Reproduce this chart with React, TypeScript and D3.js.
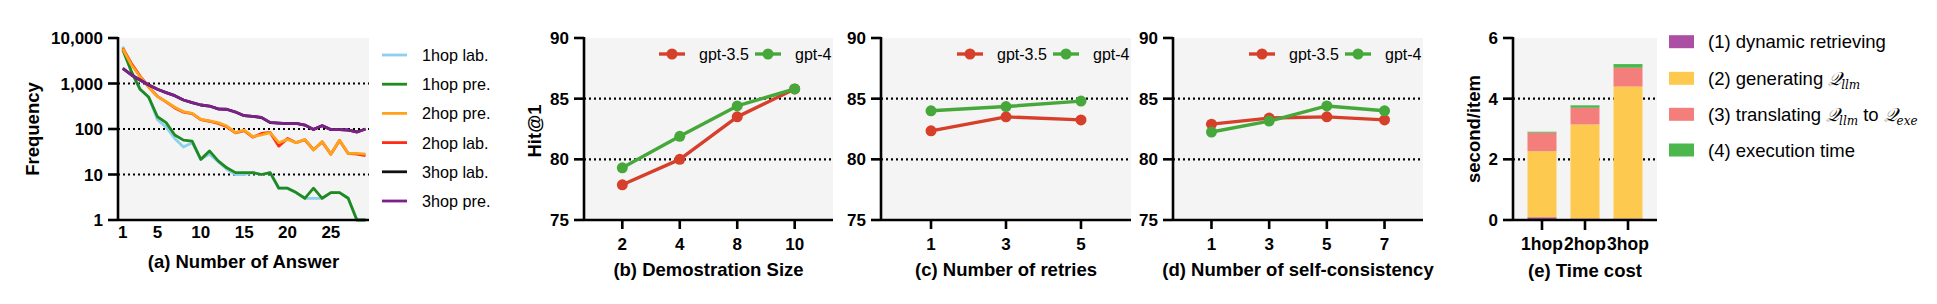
import React from "react";
import * as d3 from "d3";

// ---------- Data ----------
const answerCounts = d3.range(1, 30);
const hop1Lab = [6500, 1820, 745, 497, 160, 110, 62, 40, 50, 21.5, 28, 19, 13, 10, 10, 11, 10, 11, 5, 5, 4, 3, 3, 3, 4, 4, 3, 1, 1];
const hop1Pre = [5500, 1820, 745, 497, 186, 138, 74, 57, 54, 21.5, 33, 20, 14, 11, 11, 11, 10, 11, 5, 5, 4, 3, 5, 3, 4, 4, 3, 1, 1];
const hop2Pre = [5800, 2550, 1410, 825, 514, 400, 300, 240, 221, 163, 150, 138, 116, 83, 95, 68, 74, 83, 50, 59, 50, 59, 34.5, 53, 28, 57, 29, 29, 28];
const hop2Lab = [6000, 2750, 1450, 840, 520, 395, 290, 235, 218, 160, 148, 132, 112, 82, 92, 66, 80, 84, 42, 62, 50, 58, 35, 52, 28, 56, 29, 28, 26];
const hop3Lab = [2150, 1540, 1190, 927, 745, 630, 541, 434, 379, 337, 320, 278, 272, 236, 196, 190, 178, 138, 135, 131, 133, 122, 98, 118, 97, 97, 95, 86, 100];
const hop3Pre = [2150, 1540, 1190, 927, 745, 630, 541, 434, 379, 337, 320, 275, 268, 236, 196, 190, 180, 140, 135, 131, 133, 122, 98, 120, 97, 97, 95, 85, 100];

const demoSizes = ["2", "4", "8", "10"];
const demoGpt35 = [77.9, 80.0, 83.5, 85.8];
const demoGpt4 = [79.3, 81.9, 84.4, 85.8];

const retries = ["1", "3", "5"];
const retryGpt35 = [82.35, 83.5, 83.25];
const retryGpt4 = [84.0, 84.35, 84.8];

const consistency = ["1", "3", "5", "7"];
const consGpt35 = [82.9, 83.4, 83.5, 83.25];
const consGpt4 = [82.25, 83.15, 84.4, 84.0];

const hops = ["1hop", "2hop", "3hop"];
const tRetrieve = [0.09, 0.05, 0.05];
const tGenerate = [2.18, 3.1, 4.35];
const tTranslate = [0.61, 0.55, 0.62];
const tExecute = [0.03, 0.08, 0.12];

const freqTicks = [1, 10, 100, 1000, 10000];
const freqXTicks = [1, 5, 10, 15, 20, 25];
const hitTicks = [75, 80, 85, 90];
const timeTicks = [0, 2, 4, 6];

// ---------- Styling ----------
const FONT = "'Liberation Sans', Arial, Helvetica, sans-serif";
const TOP = 38;
const BOTTOM = 220;
const BG = "#f4f4f4";
const AXW = 2.6;
const RED = "#d6402b";
const GREEN = "#46a83a";

const aSeries = [
  { name: "1hop lab.", values: hop1Lab, color: "#8dd0ec" },
  { name: "1hop pre.", values: hop1Pre, color: "#1f8a1f" },
  { name: "2hop pre.", values: hop2Pre, color: "#ffa31a" },
  { name: "2hop lab.", values: hop2Lab, color: "#ff2d17" },
  { name: "3hop lab.", values: hop3Lab, color: "#111111" },
  { name: "3hop pre.", values: hop3Pre, color: "#7d2089" },
];
const aDrawOrder = [0, 1, 3, 2, 4, 5];

const stackKeys = [
  { label: "(1) dynamic retrieving", values: tRetrieve, color: "#ab4ea4" },
  { label: "(2) generating", values: tGenerate, color: "#fdc94f" },
  { label: "(3) translating", values: tTranslate, color: "#f47e7c" },
  { label: "(4) execution time", values: tExecute, color: "#4cb74c" },
];

function Grid({ x1, x2, ys }: { x1: number; x2: number; ys: number[] }) {
  return (
    <g>
      {ys.map((y, i) => (
        <line key={i} x1={x1} x2={x2} y1={y} y2={y} stroke="#000" strokeWidth={2.2} strokeDasharray="2,3" />
      ))}
    </g>
  );
}

function YAxis({ x, ticks, labels, scale }: { x: number; ticks: number[]; labels: string[]; scale: (v: number) => number }) {
  return (
    <g>
      <line x1={x} x2={x} y1={TOP - 1} y2={BOTTOM + 1} stroke="#000" strokeWidth={AXW} />
      {ticks.map((t, i) => (
        <g key={i}>
          <line x1={x - 10} x2={x} y1={scale(t)} y2={scale(t)} stroke="#000" strokeWidth={AXW} />
          <text x={x - 15} y={scale(t) + 6} textAnchor="end" fontSize={17} fontWeight="bold" fontFamily={FONT}>
            {labels[i]}
          </text>
        </g>
      ))}
    </g>
  );
}

function YTitle({ x, y, text }: { x: number; y: number; text: string }) {
  return (
    <text transform={`translate(${x},${y}) rotate(-90)`} textAnchor="middle" fontSize={18.5} fontWeight="bold" fontFamily={FONT}>
      {text}
    </text>
  );
}

function LinePanel({
  left,
  right,
  cats,
  s35,
  s4,
  title,
  ytitle,
}: {
  left: number;
  right: number;
  cats: string[];
  s35: number[];
  s4: number[];
  title: string;
  ytitle?: string;
}) {
  const x = d3.scalePoint<string>().domain(cats).range([left, right]).padding(0.667);
  const y = d3.scaleLinear().domain([75, 90]).range([BOTTOM, TOP]);
  const line = d3
    .line<number>()
    .x((_, i) => x(cats[i]) as number)
    .y((d) => y(d));
  const series = [
    { name: "gpt-3.5", vals: s35, color: RED, off: -174 },
    { name: "gpt-4", vals: s4, color: GREEN, off: -78 },
  ];
  return (
    <g>
      <rect x={left} y={TOP} width={right - left} height={BOTTOM - TOP} fill={BG} />
      <Grid x1={left} x2={right} ys={[y(80), y(85)]} />
      {series.map((s) => (
        <g key={s.name}>
          <path d={line(s.vals) || ""} fill="none" stroke={s.color} strokeWidth={3.4} strokeLinejoin="round" />
          {s.vals.map((v, i) => (
            <circle key={i} cx={x(cats[i])} cy={y(v)} r={5.5} fill={s.color} />
          ))}
        </g>
      ))}
      {series.map((s) => (
        <g key={"lg" + s.name}>
          <line x1={right + s.off} x2={right + s.off + 26} y1={54} y2={54} stroke={s.color} strokeWidth={3.4} />
          <circle cx={right + s.off + 13} cy={54} r={5.5} fill={s.color} />
          <text x={right + s.off + 40} y={60} fontSize={16} fontFamily={FONT}>
            {s.name}
          </text>
        </g>
      ))}
      <YAxis x={left} ticks={hitTicks} labels={hitTicks.map(String)} scale={y} />
      <line x1={left} x2={right} y1={BOTTOM} y2={BOTTOM} stroke="#000" strokeWidth={AXW} />
      {cats.map((c) => (
        <g key={c}>
          <line x1={x(c)} x2={x(c)} y1={BOTTOM} y2={BOTTOM + 9} stroke="#000" strokeWidth={AXW} />
          <text x={x(c)} y={250} textAnchor="middle" fontSize={17} fontWeight="bold" fontFamily={FONT}>
            {c}
          </text>
        </g>
      ))}
      <text x={(left + right) / 2} y={276} textAnchor="middle" fontSize={18.5} fontWeight="bold" fontFamily={FONT}>
        {title}
      </text>
      {ytitle ? <YTitle x={541} y={131} text={ytitle} /> : null}
    </g>
  );
}

function PanelA() {
  const left = 118;
  const right = 369;
  const x = d3.scaleLinear().domain([0.45, 29.4]).range([left, right]);
  const y = d3.scaleLog().domain([1, 10000]).range([BOTTOM, TOP]);
  const line = d3
    .line<number>()
    .x((_, i) => x(answerCounts[i]))
    .y((d) => y(d));
  const fmt = d3.format(",");
  return (
    <g>
      <rect x={left} y={TOP} width={right - left} height={BOTTOM - TOP} fill={BG} />
      <Grid x1={left} x2={right} ys={[y(10), y(100), y(1000)]} />
      {aDrawOrder.map((k) => {
        const s = aSeries[k];
        return <path key={s.name} d={line(s.values) || ""} fill="none" stroke={s.color} strokeWidth={2.8} strokeLinejoin="round" />;
      })}
      <YAxis x={left} ticks={freqTicks} labels={freqTicks.map((t) => fmt(t))} scale={y} />
      <line x1={left} x2={right} y1={BOTTOM} y2={BOTTOM} stroke="#000" strokeWidth={AXW} />
      {freqXTicks.map((t) => (
        <text key={t} x={x(t)} y={238} textAnchor="middle" fontSize={17} fontWeight="bold" fontFamily={FONT}>
          {t}
        </text>
      ))}
      <text x={(left + right) / 2} y={268} textAnchor="middle" fontSize={18.5} fontWeight="bold" fontFamily={FONT}>
        (a) Number of Answer
      </text>
      <YTitle x={39} y={129} text="Frequency" />
      {aSeries.map((s, i) => (
        <g key={"lg" + s.name}>
          <line x1={382} x2={407} y1={55 + i * 29.2} y2={55 + i * 29.2} stroke={s.color} strokeWidth={2.8} />
          <text x={422} y={61 + i * 29.2} fontSize={16.2} fontFamily={FONT}>
            {s.name}
          </text>
        </g>
      ))}
    </g>
  );
}

function PanelE() {
  const left = 1513;
  const right = 1657;
  const x = d3.scaleBand<string>().domain(hops).range([left, right]).paddingInner(0.326).paddingOuter(0.337);
  const y = d3.scaleLinear().domain([0, 6]).range([BOTTOM, TOP]);
  const rows = hops.map((h, i) => {
    const r: Record<string, number | string> = { hop: h };
    stackKeys.forEach((k, j) => (r["k" + j] = k.values[i]));
    return r;
  });
  const stack = d3.stack<Record<string, number | string>>().keys(stackKeys.map((_, j) => "k" + j));
  const layers = stack(rows as any);
  const legY = [41.7, 78.3, 114.3, 150];
  return (
    <g>
      <rect x={left} y={TOP} width={right - left} height={BOTTOM - TOP} fill={BG} />
      <Grid x1={left} x2={right} ys={[y(2), y(4)]} />
      {layers.map((layer, j) => (
        <g key={j}>
          {layer.map((d, i) => (
            <rect
              key={i}
              x={x(hops[i])}
              width={x.bandwidth()}
              y={y(d[1])}
              height={Math.max(0, y(d[0]) - y(d[1]))}
              fill={stackKeys[j].color}
            />
          ))}
        </g>
      ))}
      <YAxis x={left} ticks={timeTicks} labels={timeTicks.map(String)} scale={y} />
      <line x1={left} x2={right} y1={BOTTOM} y2={BOTTOM} stroke="#000" strokeWidth={AXW} />
      {hops.map((h) => {
        const cx = (x(h) as number) + x.bandwidth() / 2;
        return (
          <g key={h}>
            <line x1={cx} x2={cx} y1={BOTTOM} y2={BOTTOM + 10} stroke="#000" strokeWidth={AXW} />
            <text x={cx} y={250} textAnchor="middle" fontSize={17.5} fontWeight="bold" fontFamily={FONT}>
              {h}
            </text>
          </g>
        );
      })}
      <text x={(left + right) / 2} y={277} textAnchor="middle" fontSize={18.5} fontWeight="bold" fontFamily={FONT}>
        (e) Time cost
      </text>
      <YTitle x={1480} y={129} text="second/item" />
      {stackKeys.map((k, j) => (
        <g key={"lg" + j}>
          <rect x={1669} y={legY[j] - 6.5} width={25} height={13} fill={k.color} />
          <text x={1708} y={legY[j] + 6.5} fontSize={18.5} fontFamily={FONT}>
            {k.label}
            {j === 1 || j === 2 ? (
              <>
                <tspan fontFamily="'DejaVu Serif', serif" fontStyle="italic" dx={5}>𝒬</tspan>
                <tspan fontFamily="'DejaVu Serif', serif" fontStyle="italic" fontSize={12} dy={4}>llm</tspan>
              </>
            ) : null}
            {j === 2 ? (
              <>
                <tspan dy={-4} dx={5}>to</tspan>
                <tspan fontFamily="'DejaVu Serif', serif" fontStyle="italic" dx={5}>𝒬</tspan>
                <tspan fontFamily="'DejaVu Serif', serif" fontStyle="italic" fontSize={12} dy={4}>exe</tspan>
              </>
            ) : null}
          </text>
        </g>
      ))}
    </g>
  );
}

export default function App() {
  return (
    <svg
      width={1937}
      height={304}
      viewBox="0 0 1937 304"
      style={{ position: "absolute", left: 0, top: 0, background: "#fff" }}
    >
      <rect x={0} y={0} width={1937} height={304} fill="#fff" />
      <PanelA />
      <LinePanel left={584} right={833} cats={demoSizes} s35={demoGpt35} s4={demoGpt4} title="(b) Demostration Size" ytitle="Hit@1" />
      <LinePanel left={881} right={1131} cats={retries} s35={retryGpt35} s4={retryGpt4} title="(c) Number of retries" />
      <LinePanel left={1173} right={1423} cats={consistency} s35={consGpt35} s4={consGpt4} title="(d) Number of self-consistency" />
      <PanelE />
    </svg>
  );
}
